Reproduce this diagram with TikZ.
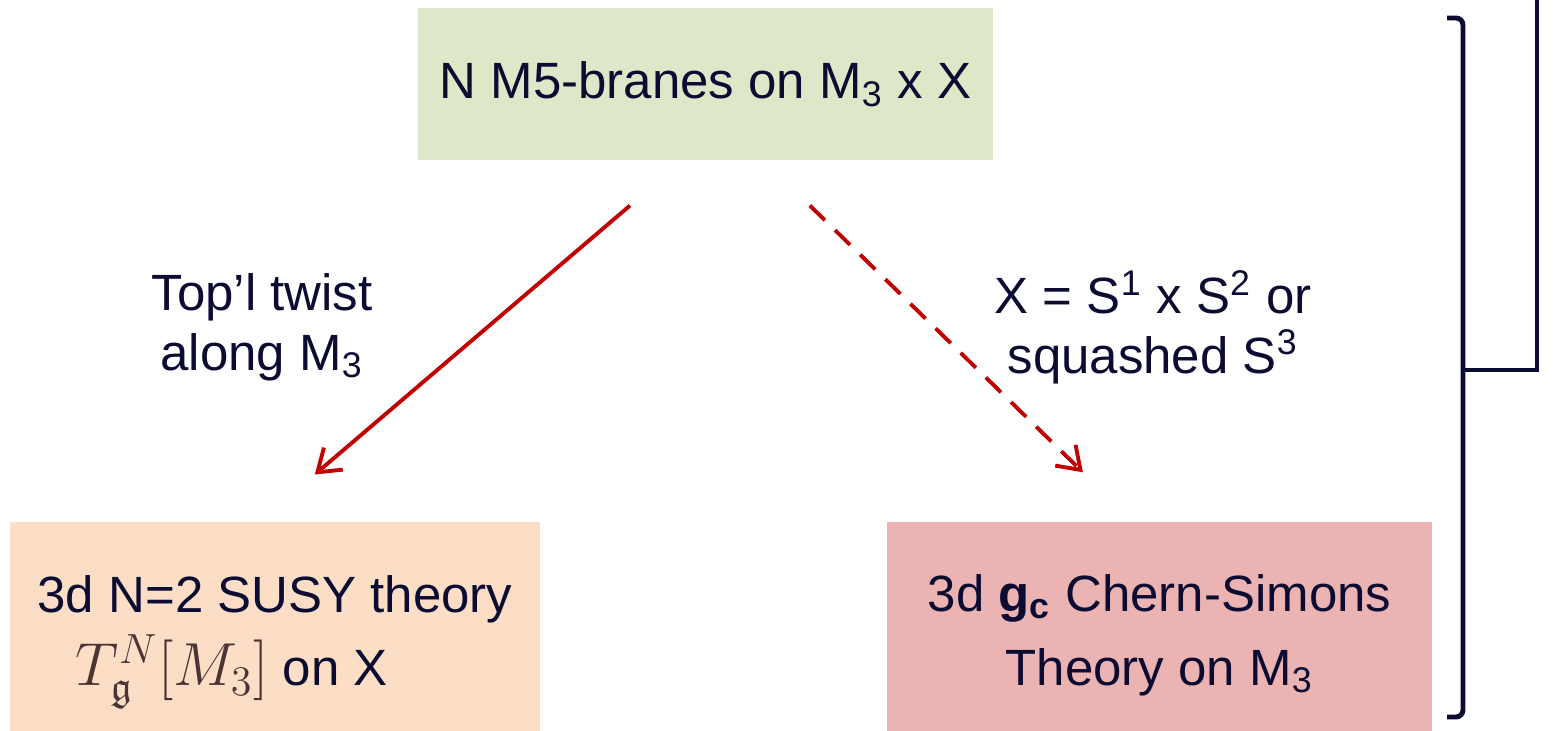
\documentclass[tikz,border=0pt]{standalone}
\usepackage{amsmath,amssymb}
\usepackage{fontspec}
\setmainfont{Liberation Sans}
\usepackage{xcolor}
\usetikzlibrary{positioning, arrows.meta}

\definecolor{ink}{RGB}{12,12,50}
\definecolor{twistred}{RGB}{192,0,0}
\definecolor{sage}{RGB}{223,231,201}
\definecolor{peach}{RGB}{251,222,197}
\definecolor{rose}{RGB}{235,179,178}
\definecolor{mathbrown}{RGB}{75,52,52}

\begin{document}
\begin{tikzpicture}[
      x=0.01cm, y=-0.01cm,
      font=\fontsize{14.5}{21}\selectfont, text=ink,
      theory/.style={inner sep=0pt, align=center},
      lbl/.style={align=center, font=\fontsize{14.5}{17}\selectfont},
      twist/.style={-{Straight Barb[length=2.1mm, width=2.9mm]}, twistred, line width=1.1pt},
      brk/.style={ink, line width=1.4pt}
    ]
    \useasboundingbox (0,0) rectangle (1560,730);
    \node[fill=sage, inner sep=0pt, minimum width=5.75cm, minimum height=1.52cm] (branes) at (705.5,84) {N M5-branes on M\textsubscript{3} x X};
    \node[theory, fill=peach, minimum width=5.30cm, minimum height=2.4cm, align=left] (susy) at (275,642) {3d N=2 SUSY theory\\ \hspace*{0.75em}{\color{mathbrown}\fontsize{17}{21}\selectfont$T^N_{\mathfrak{g}}[M_3]$}\ on X};
    \node[theory, fill=rose, minimum width=5.45cm, minimum height=2.26cm] (cs) at (1159.5,635) {3d \textbf{g\textsubscript{c}} Chern-Simons\\ Theory on M\textsubscript{3}};
    \node[lbl] (twistlbl) at (262,327) {Top’l twist\\ along M\textsubscript{3}};
    \node[lbl] (sphlbl) at (1153,327) {X = S\textsuperscript{1} x S\textsuperscript{2} or\\ squashed S\textsuperscript{3}};
    \draw[twist, shorten <=0.69cm, shorten >=0.72cm] ([xshift=-0.23cm]branes.south) -- ([xshift=-0.15cm]susy.north);
    \draw[twist, dashed, dash pattern=on 6pt off 4pt, shorten <=0.64cm, shorten >=0.70cm] ([xshift=0.585cm]branes.south) -- ([xshift=-0.265cm]cs.north);
    % bracket on the right
    \coordinate (btop) at (1463,18);
    \coordinate (bbot) at (1463,717);
    \coordinate (bmid) at (1463,370);
    \draw[brk, rounded corners=2pt] ([xshift=-0.16cm]btop) -- (btop) -- (bbot) -- ([xshift=-0.16cm]bbot);
    \draw[brk] (bmid) -- ++(74,0) coordinate (bcorner) -- (bcorner |- 0,-5);
  \end{tikzpicture}
\end{document}
